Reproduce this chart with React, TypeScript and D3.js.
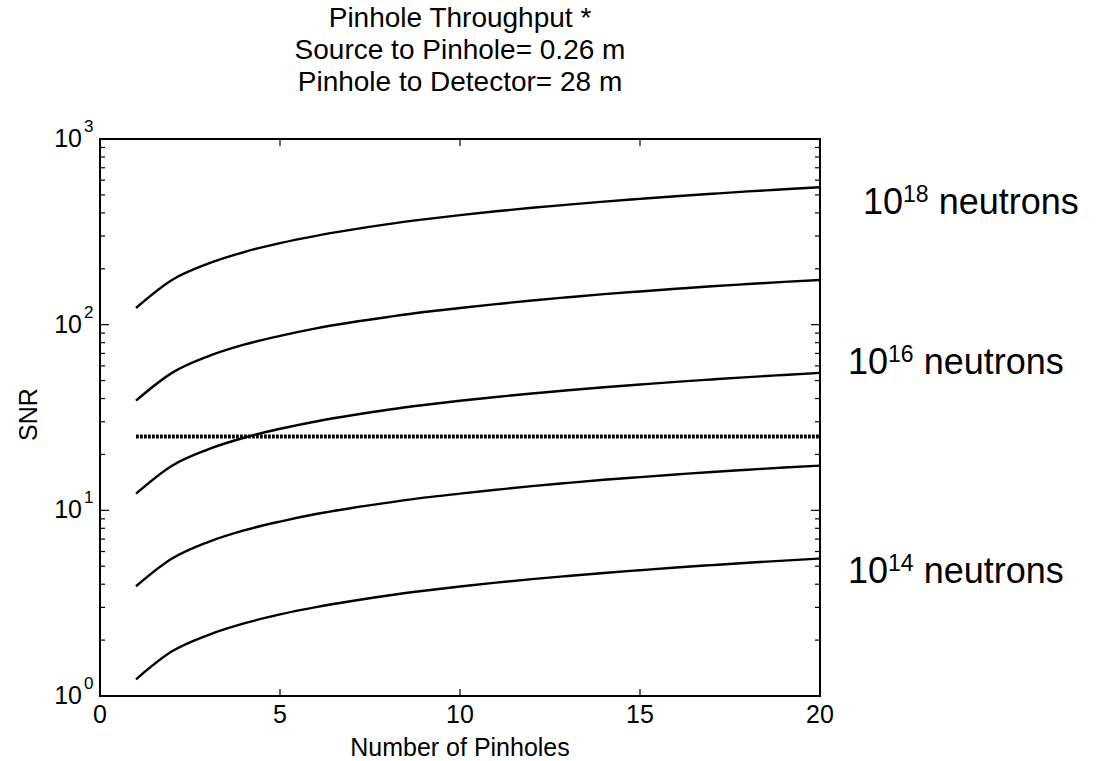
import React from "react";
import * as d3 from "d3";

const pinholes = [1, 2, 3, 4, 5, 6, 7, 8, 9, 10, 11, 12, 13, 14, 15, 16, 17, 18, 19, 20];
const snr1e18 = [123, 174, 213, 246, 275, 301, 325, 348, 369, 389, 408, 426, 443, 460, 476, 492, 507, 522, 536, 550];
const snr1e17 = [39, 55, 67.5, 78, 87, 95.5, 103, 110, 117, 123, 129, 135, 140.5, 146, 151, 156, 161, 165.5, 170, 174];
const snr1e16 = [12.3, 17.4, 21.3, 24.6, 27.5, 30.1, 32.5, 34.8, 36.9, 38.9, 40.8, 42.6, 44.3, 46, 47.6, 49.2, 50.7, 52.2, 53.6, 55];
const snr1e15 = [3.9, 5.5, 6.75, 7.8, 8.7, 9.55, 10.3, 11, 11.7, 12.3, 12.9, 13.5, 14.05, 14.6, 15.1, 15.6, 16.1, 16.55, 17, 17.4];
const snr1e14 = [1.23, 1.74, 2.13, 2.46, 2.75, 3.01, 3.25, 3.48, 3.69, 3.89, 4.08, 4.26, 4.43, 4.6, 4.76, 4.92, 5.07, 5.22, 5.36, 5.5];
const threshold = 25;
const xTicks = [0, 5, 10, 15, 20];
const yMajorExps = [0, 1, 2, 3];
const titleLines = ["Pinhole Throughput *", "Source to Pinhole= 0.26 m", "Pinhole to Detector= 28 m"];
const seriesLabels = ["18", "16", "14"];

const W = 1098, H = 761;
const L = 100, R = 820, T = 139, B = 696;
const FONT = "'Liberation Sans', Arial, Helvetica, sans-serif";

export default function App() {
  const x = d3.scaleLinear().domain([0, 20]).range([L, R]);
  const y = d3.scaleLog().domain([1, 1000]).range([B, T]);
  const line = d3
    .line<number>()
    .x((_, i) => x(pinholes[i]))
    .y((d) => y(d))
    .curve(d3.curveMonotoneX);
  const series = [snr1e18, snr1e17, snr1e16, snr1e15, snr1e14];

  const minor: number[] = [];
  for (let e = 0; e < 3; e++) for (let m = 2; m <= 9; m++) minor.push(m * Math.pow(10, e));

  const labelY = [214, 374, 583];
  const labelX = [863, 848, 848];

  return (
    <svg width={W} height={H} style={{ position: "absolute", left: 0, top: 0, background: "#fff" }} fontFamily={FONT}>
      <rect x={0} y={0} width={W} height={H} fill="#fff" />
      {titleLines.map((t, i) => (
        <text key={i} x={(L + R) / 2} y={27 + i * 32} textAnchor="middle" fontSize={28} fill="#000">
          {t}
        </text>
      ))}
      {series.map((s, i) => (
        <path key={i} d={line(s) || ""} fill="none" stroke="#000" strokeWidth={2.4} />
      ))}
      <line x1={x(pinholes[0])} x2={x(pinholes[pinholes.length - 1])} y1={y(threshold)} y2={y(threshold)}
        stroke="#000" strokeWidth={4} strokeDasharray="2.8 1.2" />
      <rect x={L} y={T} width={R - L} height={B - T} fill="none" stroke="#000" strokeWidth={2} />
      {xTicks.map((t) => (
        <g key={t}>
          <line x1={x(t)} x2={x(t)} y1={B} y2={B - 7} stroke="#000" strokeWidth={1.2} />
          <line x1={x(t)} x2={x(t)} y1={T} y2={T + 7} stroke="#000" strokeWidth={1.2} />
          <text x={x(t)} y={723} textAnchor="middle" fontSize={25}>{t}</text>
        </g>
      ))}
      {yMajorExps.map((e) => {
        const v = Math.pow(10, e);
        return (
          <g key={e}>
            <line x1={L} x2={L + 9} y1={y(v)} y2={y(v)} stroke="#000" strokeWidth={1.2} />
            <line x1={R} x2={R - 9} y1={y(v)} y2={y(v)} stroke="#000" strokeWidth={1.2} />
            <text x={82} y={y(v) + 8} textAnchor="end" fontSize={25}>10</text>
            <text x={84} y={y(v) - 7} textAnchor="start" fontSize={17}>{e}</text>
          </g>
        );
      })}
      {minor.map((v) => (
        <g key={v}>
          <line x1={L} x2={L + 5} y1={y(v)} y2={y(v)} stroke="#000" strokeWidth={1.2} />
          <line x1={R} x2={R - 5} y1={y(v)} y2={y(v)} stroke="#000" strokeWidth={1.2} />
        </g>
      ))}
      <text x={(L + R) / 2} y={756} textAnchor="middle" fontSize={25}>Number of Pinholes</text>
      <text transform={`translate(37, ${(T + B) / 2 - 3}) rotate(-90)`} textAnchor="middle" fontSize={25}>SNR</text>
      {seriesLabels.map((exp, i) => (
        <text key={exp} x={labelX[i]} y={labelY[i]} fontSize={36} fill="#000">
          10
          <tspan dy={-12} fontSize={23}>{exp}</tspan>
          <tspan dy={12} fontSize={36}> neutrons</tspan>
        </text>
      ))}
    </svg>
  );
}
